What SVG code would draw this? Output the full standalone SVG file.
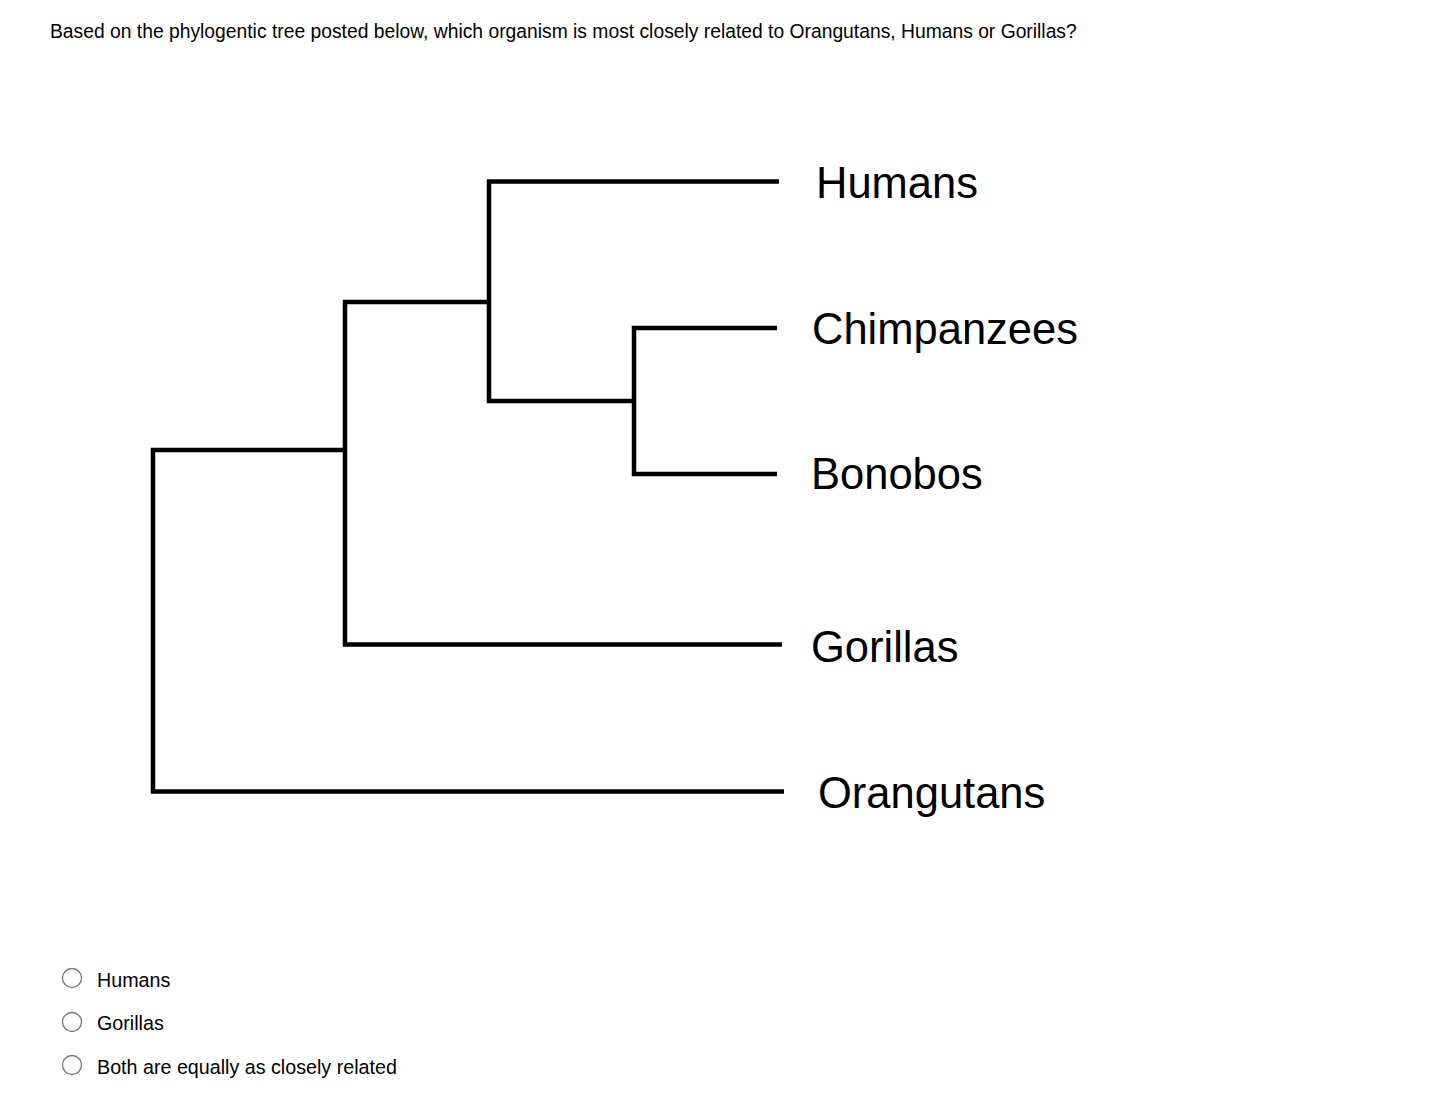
<svg xmlns="http://www.w3.org/2000/svg" width="1442" height="1100" viewBox="0 0 1442 1100">
<style>
.t{font-family:"Liberation Sans",Arial,sans-serif;fill:#000}
.q{font-size:19.3px}
.lbl{font-size:43.5px}
.opt{font-size:19.7px}
.br{fill:none;stroke:#000;stroke-width:4.5;stroke-linejoin:miter;stroke-linecap:butt}
.radio{fill:#fff;stroke:#777;stroke-width:1.3}
</style>
<rect width="1442" height="1100" fill="#fff"/>
<text class="t q" x="50" y="38">Based on the phylogentic tree posted below, which organism is most closely related to Orangutans, Humans or Gorillas?</text>
<g id="connectors">
<path class="br" d="M345,450 H153 V791.5 H784"/>
<path class="br" d="M489,302 H345 V644.5 H782"/>
<path class="br" d="M779,181.5 H489 V401 H634"/>
<path class="br" d="M777,328 H634 V474 H777"/>
</g>
<g id="humans"><text class="t lbl" x="816" y="198">Humans</text></g>
<g id="chimpanzees"><text class="t lbl" x="812" y="344">Chimpanzees</text></g>
<g id="bonobos"><text class="t lbl" x="811" y="489">Bonobos</text></g>
<g id="gorillas"><text class="t lbl" x="811" y="662">Gorillas</text></g>
<g id="orangutans"><text class="t lbl" x="818" y="808">Orangutans</text></g>
<g id="option-humans"><circle class="radio" cx="72" cy="978" r="9.5"/><text class="t opt" x="97" y="987">Humans</text></g>
<g id="option-gorillas"><circle class="radio" cx="72" cy="1022" r="9.5"/><text class="t opt" x="97" y="1030">Gorillas</text></g>
<g id="option-both"><circle class="radio" cx="72" cy="1065" r="9.5"/><text class="t opt" x="97" y="1074">Both are equally as closely related</text></g>
</svg>
